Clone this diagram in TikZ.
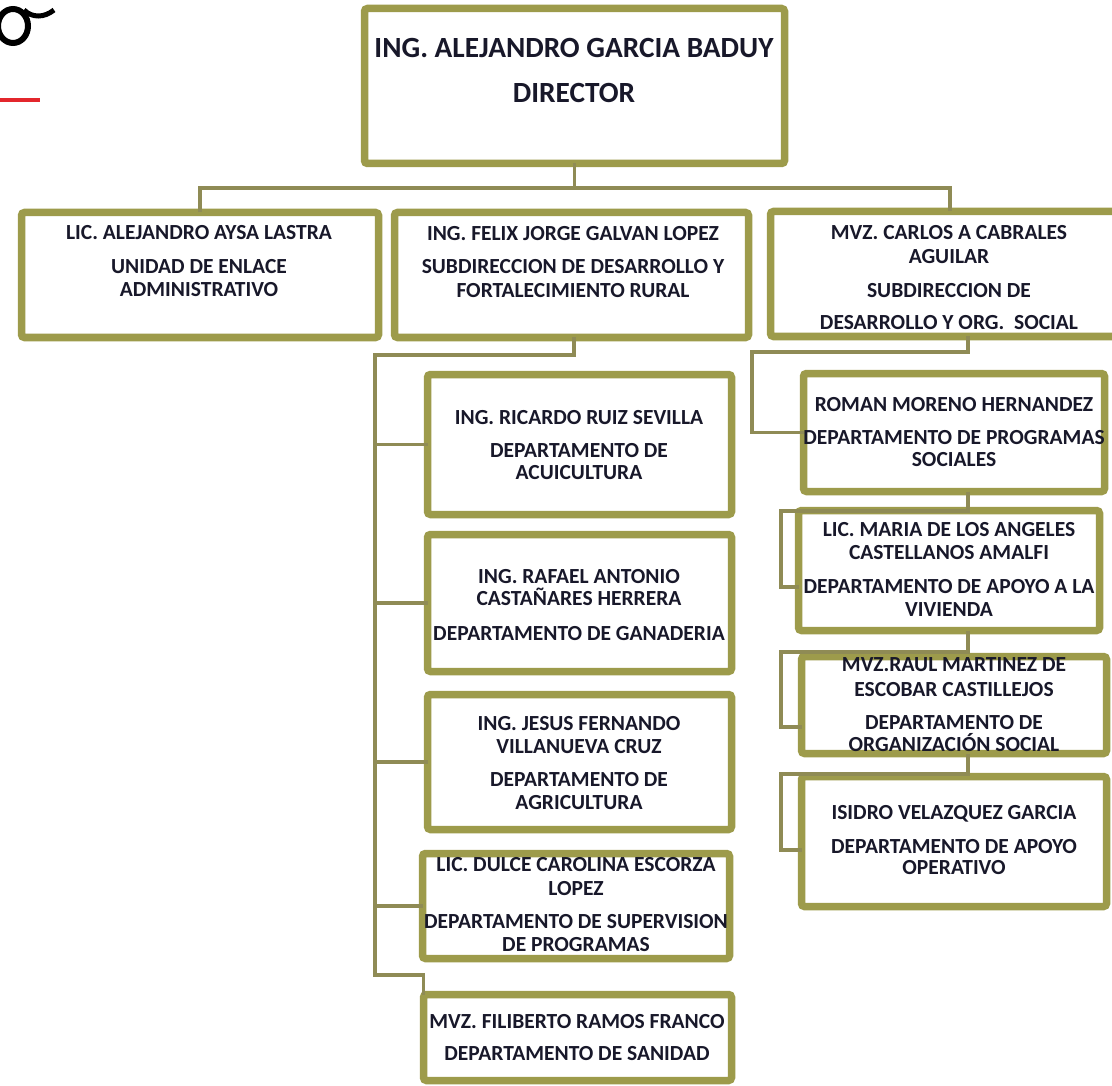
\documentclass[tikz,border=0pt]{standalone}
\usepackage{fontspec}
\setmainfont{Carlito}
\usetikzlibrary{shadows}
\definecolor{olv}{HTML}{9D9B4B}
\definecolor{cline}{HTML}{8F8B55}
\definecolor{ink}{HTML}{18182A}
\definecolor{redl}{HTML}{E3262C}
\newcommand\tline[4]{\node[txt] (#1) at (#2,#3+6.9) {#4};}
\newcommand\dline[4]{\node[dtxt] (#1) at (#2,#3+9.4) {#4};}
\begin{document}
\begin{tikzpicture}[x=1pt,y=-1pt,
 box/.style={draw=olv, line width=7.5pt, fill=white, rounded corners=3pt, inner sep=0pt, outer sep=0pt,
   drop shadow={shadow xshift=2pt, shadow yshift=-3pt, opacity=0.25, fill=black!60}},
 conn/.style={draw=cline, line width=3.5pt},
 txt/.style={anchor=base, inner sep=0pt, text=ink, font=\fontsize{21.5}{24}\selectfont\bfseries},
 dtxt/.style={anchor=base, inner sep=0pt, text=ink, font=\fontsize{29.3}{34}\selectfont\bfseries},
]
\useasboundingbox (0,0) rectangle (1112,1086);
\clip (0,0) rectangle (1112,1086);

% fragment of logo and red rule at top left
\draw[line width=6pt, black] (13,26) ellipse [x radius=15, y radius=17];
\draw[line width=5pt, black] (24,10) .. controls (32,18) and (44,18) .. (54,10);
\draw[line width=4pt, redl] (0,100) -- (40,100);

% boxes
\node[box, minimum width=420, minimum height=155] (D) at (574.5,86) {};
\node[box, minimum width=357, minimum height=125] (A) at (200,275) {};
\node[box, minimum width=354, minimum height=125] (B) at (571.5,275) {};
\node[box, minimum width=346, minimum height=125] (C) at (943.5,274) {};
\node[box, minimum width=304, minimum height=140] (R) at (579.5,444.5) {};
\node[box, minimum width=304, minimum height=137] (G) at (579.5,603) {};
\node[box, minimum width=304, minimum height=135] (J) at (579.5,762) {};
\node[box, minimum width=307, minimum height=105] (U) at (576,906) {};
\node[box, minimum width=308, minimum height=86] (F) at (577.5,1037.5) {};
\node[box, minimum width=301, minimum height=118] (M) at (954,432.5) {};
\node[box, minimum width=301, minimum height=120] (V) at (949,570.5) {};
\node[box, minimum width=305, minimum height=97] (O) at (954,705) {};
\node[box, minimum width=305, minimum height=130] (P) at (954,841.5) {};

% connector coordinates
\coordinate (bus) at (574,188);
\coordinate (cbus) at (950,188);
\coordinate (lb) at (574,355);
\coordinate (lt) at (375,355);
\coordinate (lbot) at (375,975);
\coordinate (rc) at (968,352);
\coordinate (rt) at (752,352);
\coordinate (q1) at (968,511);
\coordinate (q1l) at (781,511);
\coordinate (q1b) at (781,587);
\coordinate (q2) at (968,652);
\coordinate (q2l) at (781,652);
\coordinate (q2b) at (781,727);
\coordinate (q3) at (968,774);
\coordinate (q3l) at (781,774);
\coordinate (q3b) at (781,850);

% connectors
\draw[conn] (D.south) -- (D.south |- bus);
\draw[conn] (A.north) -- (A.north |- bus) -- (cbus) -- (C.north -| cbus);
\draw[conn] (B.south -| lb) -- (lb) -- (lt) -- (lbot) -- (lbot -| F.west) -- (F.north west);
\foreach \n in {R,G,J,U} \draw[conn] (lt |- \n.west) -- (\n.west);
\draw[conn] (C.south -| rc) -- (rc) -- (rt) -- (rt |- M.west) -- (M.west);
\draw[conn] (M.south -| q1) -- (q1) -- (q1l) -- (q1b) -- (V.west |- q1b);
\draw[conn] (V.south -| q2) -- (q2) -- (q2l) -- (q2b) -- (O.west |- q2b);
\draw[conn] (O.south -| q3) -- (q3) -- (q3l) -- (q3b) -- (P.west |- q3b);

% texts
\dline{d1}{574}{48}{ING. ALEJANDRO GARCIA BADUY}
\dline{d2}{574}{93}{DIRECTOR}

\tline{a1}{199}{233}{LIC. ALEJANDRO AYSA LASTRA}
\tline{a2}{199}{267}{UNIDAD DE ENLACE}
\tline{a3}{199}{290}{ADMINISTRATIVO}

\tline{b1}{573}{234}{ING. FELIX JORGE GALVAN LOPEZ}
\tline{b2}{573}{267}{SUBDIRECCION DE DESARROLLO Y}
\tline{b3}{573}{291}{FORTALECIMIENTO RURAL}

\tline{c1}{949}{233}{MVZ. CARLOS A CABRALES}
\tline{c2}{949}{257}{AGUILAR}
\tline{c3}{949}{291}{SUBDIRECCION DE}
\tline{c4}{949}{323}{DESARROLLO Y ORG.\ \ SOCIAL}

\tline{r1}{579}{418}{ING. RICARDO RUIZ SEVILLA}
\tline{r2}{579}{451}{DEPARTAMENTO DE}
\tline{r3}{579}{473}{ACUICULTURA}

\tline{f1}{579}{577}{ING. RAFAEL ANTONIO}
\tline{f2}{579}{599}{CASTAÑARES HERRERA}
\tline{f3}{579}{634}{DEPARTAMENTO DE GANADERIA}

\tline{j1}{579}{724}{ING. JESUS FERNANDO}
\tline{j2}{579}{747}{VILLANUEVA CRUZ}
\tline{j3}{579}{780}{DEPARTAMENTO DE}
\tline{j4}{579}{803}{AGRICULTURA}

\tline{u1}{576}{865}{LIC. DULCE CAROLINA ESCORZA}
\tline{u2}{576}{889}{LOPEZ}
\tline{u3}{576}{922}{DEPARTAMENTO DE SUPERVISION}
\tline{u4}{576}{945}{DE PROGRAMAS}

\tline{s1}{577}{1022}{MVZ. FILIBERTO RAMOS FRANCO}
\tline{s2}{577}{1054}{DEPARTAMENTO DE SANIDAD}

\tline{m1}{954}{405}{ROMAN MORENO HERNANDEZ}
\tline{m2}{954}{438}{DEPARTAMENTO DE PROGRAMAS}
\tline{m3}{954}{460}{SOCIALES}

\tline{v1}{949}{530}{LIC. MARIA DE LOS ANGELES}
\tline{v2}{949}{553}{CASTELLANOS AMALFI}
\tline{v3}{949}{587}{DEPARTAMENTO DE APOYO A LA}
\tline{v4}{949}{610}{VIVIENDA}

\tline{o1}{954}{665}{MVZ.RAUL MARTINEZ DE}
\tline{o2}{954}{690}{ESCOBAR CASTILLEJOS}
\tline{o3}{954}{723}{DEPARTAMENTO DE}
\tline{o4}{954}{745}{ORGANIZACIÓN SOCIAL}

\tline{p1}{954}{813}{ISIDRO VELAZQUEZ GARCIA}
\tline{p2}{954}{847}{DEPARTAMENTO DE APOYO}
\tline{p3}{954}{868}{OPERATIVO}
\end{tikzpicture}
\end{document}
